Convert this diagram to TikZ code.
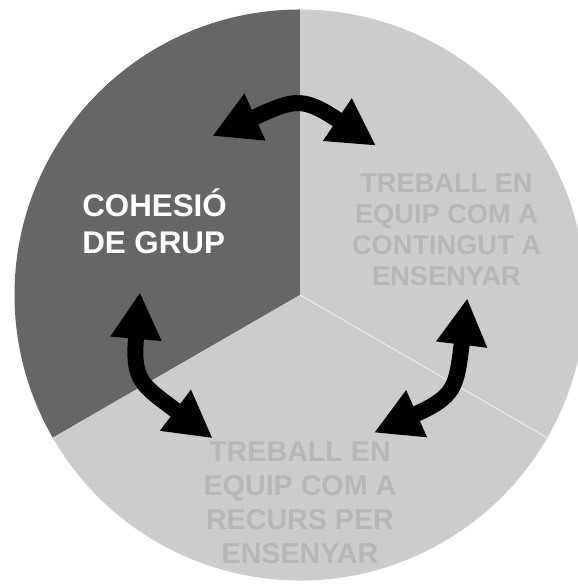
\documentclass[tikz,border=0pt]{standalone}
\usepackage{fontspec}
\setmainfont{Liberation Sans}
\usepackage{tikz}
\usetikzlibrary{arrows.meta,positioning}
\definecolor{sectordark}{RGB}{102,102,102}
\definecolor{sectorlight}{RGB}{204,204,204}
\definecolor{labelgrey}{RGB}{183,183,183}

\begin{document}
\begin{tikzpicture}[x=0.75pt, y=0.75pt,
    lbl/.style={font=\bfseries\fontsize{20.4}{23.25}\selectfont, text=labelgrey,
                align=center, inner sep=0pt},
    dbl/.style={{Triangle[length=35pt, width=36pt]}-{Triangle[length=35pt, width=36pt]},
                line width=12pt, black, looseness=1.4}
]
\useasboundingbox (0,0) rectangle (577,584);
\coordinate (o) at (300,289);
% pie
\fill[sectordark] (o) -- ++(90:285.5) arc (90:210:285.5) -- cycle;
\fill[sectorlight] (o) -- ++(210:285.5) arc (210:450:285.5) -- cycle;
\draw[white!75!sectorlight, line width=0.6pt] (o) -- ++(330:285.5);
% labels
\node[lbl, text=white, align=left, anchor=base west,
      font=\bfseries\fontsize{23.5}{27.5}\selectfont] (cohesio) at (82,330.7)
      {COHESIÓ\\DE GRUP};
\node[lbl, anchor=base] (contingut) at (446.5,298)
      {TREBALL EN\\EQUIP COM A\\CONTINGUT A\\ENSENYAR};
\node[lbl, anchor=base, font=\bfseries\fontsize{21.5}{25.5}\selectfont] (recurs) at (300,20)
      {TREBALL EN\\EQUIP COM A\\RECURS PER\\ENSENYAR};
% arrows
\coordinate (topL) at (212.3,448);
\coordinate (topR) at (376,438.3);
\coordinate (leftT) at (140,291.7);
\coordinate (leftB) at (212.7,145.7);
\coordinate (rightT) at (467.3,285.7);
\coordinate (rightB) at (374,151.3);
\draw[dbl] (topL) to[out=24, in=146] (topR);
\draw[dbl] (leftT) to[out=265, in=143] (leftB);
\draw[dbl] (rightT) to[out=263, in=24] (rightB);
\end{tikzpicture}
\end{document}
